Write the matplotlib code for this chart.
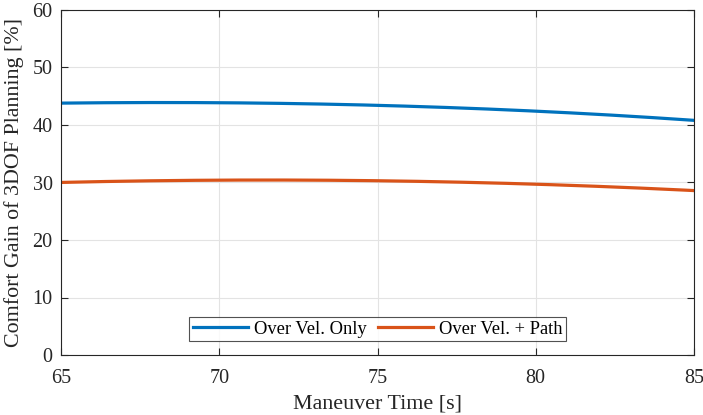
import matplotlib
matplotlib.use("Agg")
import matplotlib.pyplot as plt
import numpy as np

plt.rcParams['font.family'] = ['Liberation Serif', 'DejaVu Serif']
plt.rcParams['mathtext.fontset'] = 'stix'

maneuver_time = [65, 67.5, 70, 72.5, 75, 77.5, 80, 82.5, 85]
gain_vel_only = [43.8, 43.9, 43.9, 43.7, 43.4, 43.0, 42.4, 41.7, 40.8]
gain_vel_path = [30.0, 30.3, 30.4, 30.4, 30.3, 30.1, 29.7, 29.2, 28.6]

series_labels = ['Over Vel. Only', 'Over Vel. + Path']
x_ticks = [65, 70, 75, 80, 85]
y_ticks = [0, 10, 20, 30, 40, 50, 60]

# smooth curves through the sampled values
xs = np.linspace(65, 85, 200)
def smooth(x, y):
    c = np.polyfit(x, y, 3)
    return np.polyval(c, xs)

fig = plt.figure(figsize=(7.03, 4.15), dpi=100)
ax = fig.add_axes([61/703, 1-355/415, (694-61)/703, (355-10)/415])

ax.plot(xs, smooth(maneuver_time, gain_vel_only), color='#0072BD', lw=2.3, label=series_labels[0])
ax.plot(xs, smooth(maneuver_time, gain_vel_path), color='#D95319', lw=2.3, label=series_labels[1])

ax.set_xlim(65, 85)
ax.set_ylim(0, 60)
ax.set_xticks(x_ticks)
ax.set_yticks(y_ticks)
ax.grid(True, color='#e3e3e3', lw=0.8)
ax.set_axisbelow(True)
ax.tick_params(direction='in', top=True, right=True, length=5, width=0.8,
               colors='#262626', labelsize=14.5)
ax.tick_params(axis='x', pad=10)
ax.tick_params(axis='y', pad=6)
for s in ax.spines.values():
    s.set_color('#262626')
    s.set_linewidth(0.8)

ax.set_xlabel('Maneuver Time [s]', fontsize=15.8, color='#262626', labelpad=5)
ax.set_ylabel('Comfort Gain of 3DOF Planning [%]', fontsize=15.8, color='#262626', labelpad=6)

leg = ax.legend(loc='lower center', ncol=2, bbox_to_anchor=(0.5, 0.04),
                fontsize=13.3, frameon=True, fancybox=False, edgecolor='#262626',
                handlelength=3.0, handletextpad=0.3, columnspacing=0.6,
                borderpad=0.2, borderaxespad=0)
leg.get_frame().set_linewidth(0.8)

fig.savefig('out.png', dpi=100)
